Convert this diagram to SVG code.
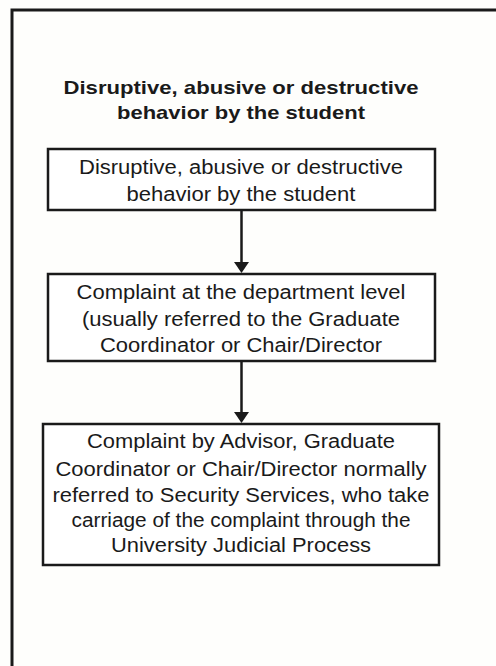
<svg xmlns="http://www.w3.org/2000/svg" width="496" height="666" viewBox="0 0 496 666">
<style>
.box{fill:#fff;stroke:#1a1a1a;stroke-width:2.5}
.t{font-family:"Liberation Sans",Arial,sans-serif;font-size:19.5px;fill:#1a1a1a;text-anchor:middle}
.h{font-family:"Liberation Sans",Arial,sans-serif;font-size:18.5px;font-weight:bold;fill:#1a1a1a;text-anchor:middle}
.c{stroke:#1a1a1a;stroke-width:2.5;fill:none}
</style>
<defs>
<marker id="ah" markerWidth="11" markerHeight="15" refX="2" refY="7.5" orient="auto" markerUnits="userSpaceOnUse" viewBox="0 0 11 15">
<path d="M0,0 L11,7.5 L0,15 z" fill="#1a1a1a"/>
</marker>
</defs>
<rect x="0" y="0" width="496" height="666" fill="#fefefc"/>
<rect x="12" y="10" width="500" height="680" fill="#fefefc" stroke="#1a1a1a" stroke-width="3"/>
<g id="title">
<text class="h" x="241" y="94" textLength="355" lengthAdjust="spacingAndGlyphs">Disruptive, abusive or destructive</text>
<text class="h" x="241" y="119" textLength="248" lengthAdjust="spacingAndGlyphs">behavior by the student</text>
</g>
<g id="node1">
<rect class="box" x="48" y="149" width="387" height="61"/>
<text class="t" x="241" y="174" textLength="324" lengthAdjust="spacingAndGlyphs">Disruptive, abusive or destructive</text>
<text class="t" x="241" y="201" textLength="229" lengthAdjust="spacingAndGlyphs">behavior by the student</text>
</g>
<g id="node2">
<rect class="box" x="48" y="274" width="387" height="87"/>
<text class="t" x="241" y="299" textLength="329" lengthAdjust="spacingAndGlyphs">Complaint at the department level</text>
<text class="t" x="241" y="326" textLength="318" lengthAdjust="spacingAndGlyphs">(usually referred to the Graduate</text>
<text class="t" x="241" y="352" textLength="282" lengthAdjust="spacingAndGlyphs">Coordinator or Chair/Director</text>
</g>
<g id="node3">
<rect class="box" x="43" y="424" width="396" height="141"/>
<text class="t" x="241" y="448" textLength="308" lengthAdjust="spacingAndGlyphs">Complaint by Advisor, Graduate</text>
<text class="t" x="241" y="476" textLength="371" lengthAdjust="spacingAndGlyphs">Coordinator or Chair/Director normally</text>
<text class="t" x="241" y="502" textLength="377" lengthAdjust="spacingAndGlyphs">referred to Security Services, who take</text>
<text class="t" x="241" y="527" textLength="339" lengthAdjust="spacingAndGlyphs">carriage of the complaint through the</text>
<text class="t" x="241" y="552" textLength="260" lengthAdjust="spacingAndGlyphs">University Judicial Process</text>
</g>
<g id="connectors">
<line class="c" x1="241.5" y1="210" x2="241.5" y2="264" marker-end="url(#ah)"/>
<line class="c" x1="241.5" y1="361" x2="241.5" y2="414" marker-end="url(#ah)"/>
</g>
</svg>
